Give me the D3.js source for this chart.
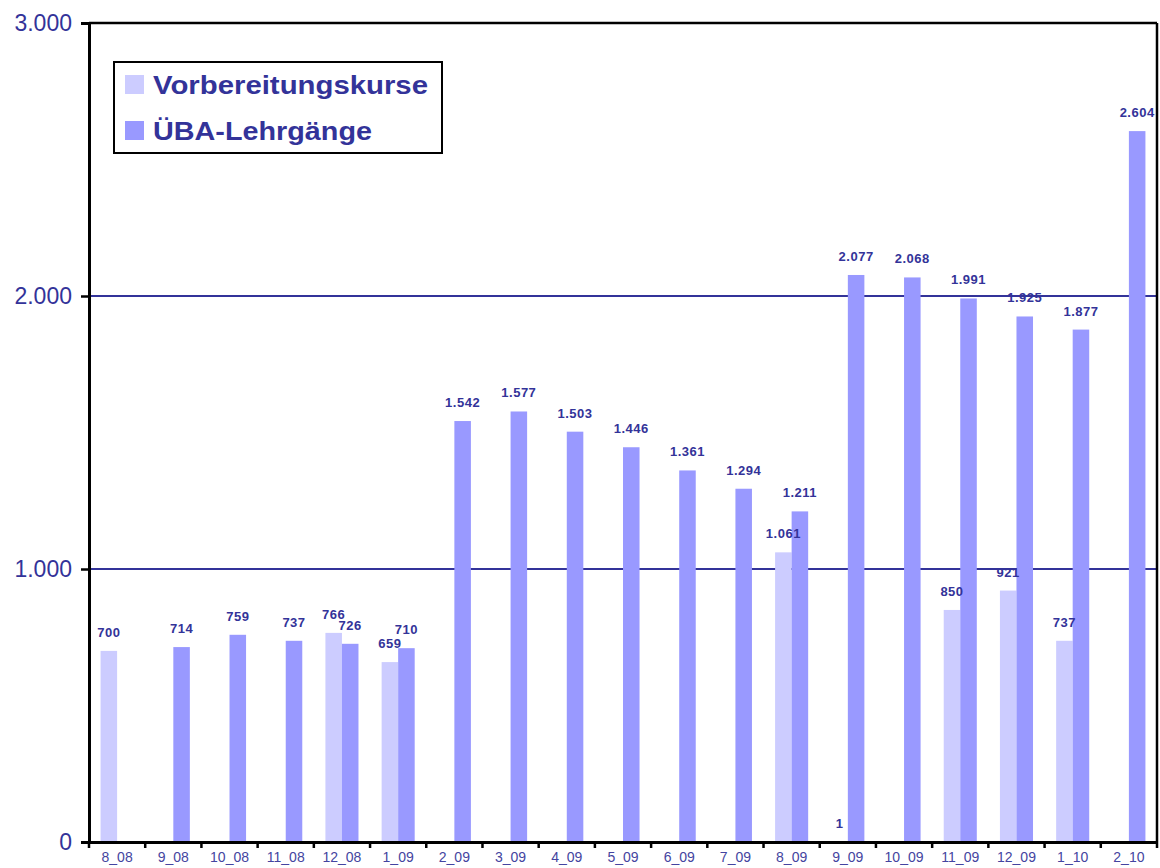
<!DOCTYPE html>
<html>
<head>
<meta charset="utf-8">
<script src="https://cdn.jsdelivr.net/npm/d3@7"></script>
<style>
  html, body { margin: 0; padding: 0; background: #fff; }
  svg { display: block; font-family: "Liberation Sans", Arial, sans-serif; }
</style>
</head>
<body>
<svg id="chart" width="1160" height="868"></svg>
<script>
const categories = ["8_08","9_08","10_08","11_08","12_08","1_09","2_09","3_09","4_09","5_09","6_09","7_09","8_09","9_09","10_09","11_09","12_09","1_10","2_10"];
const vorbereitung = [700,null,null,null,766,659,null,null,null,null,null,null,1061,1,null,850,921,737,null];
const ueba = [null,714,759,737,726,710,1542,1577,1503,1446,1361,1294,1211,2077,2068,1991,1925,1877,2604];
const yTicks = [0,1000,2000,3000];
const seriesNames = ["Vorbereitungskurse","ÜBA-Lehrgänge"];
const seriesKeys = ["v","u"];
const colors = {v:"#ccccff", u:"#9999ff"};
const textColor = "#333399";

const svg = d3.select("#chart");
const pLeft = 89, pRight = 1157, pTop = 23, pBottom = 842;

const x = d3.scaleBand().domain(categories).range([pLeft, pRight]).padding(0);
const xs = d3.scaleBand().domain(seriesKeys).range([0, x.bandwidth()]).paddingInner(0).paddingOuter(0.7);
const y = d3.scaleLinear().domain([0,3000]).range([pBottom, pTop]);

const loc = d3.formatLocale({decimal:",", thousands:".", grouping:[3], currency:["","€"]});
const fmt = loc.format(",d");

// gridlines
svg.append("g").selectAll("line").data([1000,2000]).join("line")
  .attr("x1", pLeft).attr("x2", pRight)
  .attr("y1", d => y(d)).attr("y2", d => y(d))
  .attr("stroke", textColor).attr("stroke-width", 2);

// bars
const rows = [];
categories.forEach((c,i) => {
  if (vorbereitung[i] != null) rows.push({c, k:"v", v:vorbereitung[i]});
  if (ueba[i] != null) rows.push({c, k:"u", v:ueba[i]});
});
svg.append("g").selectAll("rect").data(rows).join("rect")
  .attr("x", d => x(d.c) + xs(d.k))
  .attr("width", xs.bandwidth())
  .attr("y", d => y(d.v))
  .attr("height", d => y(0) - y(d.v))
  .attr("fill", d => colors[d.k]);

// data labels
svg.append("g").selectAll("text").data(rows).join("text")
  .attr("x", d => x(d.c) + xs(d.k) + xs.bandwidth()/2)
  .attr("y", d => y(d.v) - 14)
  .attr("text-anchor", "middle")
  .attr("font-size", 13)
  .attr("font-weight", "bold")
  .attr("letter-spacing", "0.5px")
  .attr("fill", textColor)
  .text(d => fmt(d.v));

// plot frame (top and right)
svg.append("line").attr("x1", pLeft).attr("x2", pRight).attr("y1", pTop).attr("y2", pTop)
  .attr("stroke", "#000").attr("stroke-width", 2.5);
svg.append("line").attr("x1", pRight).attr("x2", pRight).attr("y1", pTop).attr("y2", pBottom)
  .attr("stroke", "#000").attr("stroke-width", 2.5);

// y axis
const yAxis = d3.axisLeft(y).tickValues(yTicks).tickSize(8).tickPadding(9)
  .tickFormat(d => fmt(d));
const gy = svg.append("g").attr("transform", `translate(${pLeft},0)`).call(yAxis);
gy.select(".domain").attr("stroke", "#000").attr("stroke-width", 3);
gy.selectAll(".tick line").attr("stroke", "#000").attr("stroke-width", 2.5);
gy.selectAll(".tick text").attr("font-size", 23).attr("fill", textColor)
  .attr("font-family", "\"Liberation Sans\", Arial, sans-serif");

// x axis
const xAxis = d3.axisBottom(x).tickSize(0).tickPadding(0);
const gx = svg.append("g").attr("transform", `translate(0,${pBottom})`).call(xAxis);
gx.select(".domain").attr("stroke", "#000").attr("stroke-width", 3);
gx.selectAll(".tick text").attr("font-size", 14).attr("fill", "#4444a0")
  .attr("dy", null).attr("y", 20)
  .attr("font-family", "\"Liberation Sans\", Arial, sans-serif");
// boundary ticks
const bounds = categories.map(c => x(c)).concat([x(categories[categories.length-1]) + x.bandwidth()]);
svg.append("g").selectAll("line").data(bounds).join("line")
  .attr("x1", d => d).attr("x2", d => d)
  .attr("y1", pBottom).attr("y2", pBottom + 6)
  .attr("stroke", "#000").attr("stroke-width", 2.5);

// legend
const lg = svg.append("g");
lg.append("rect").attr("x", 114).attr("y", 62).attr("width", 328).attr("height", 91)
  .attr("fill", "#fff").attr("stroke", "#000").attr("stroke-width", 2);
const legY = [94, 140];
const legW = [275, 219];
seriesKeys.forEach((k,i) => {
  lg.append("rect").attr("x", 125).attr("y", legY[i] - 19).attr("width", 19).attr("height", 19)
    .attr("fill", colors[k]);
  lg.append("text").attr("x", 153).attr("y", legY[i])
    .attr("font-size", 25).attr("font-weight", "bold").attr("fill", textColor)
    .attr("textLength", legW[i]).attr("lengthAdjust", "spacingAndGlyphs")
    .text(seriesNames[i]);
});
</script>
</body>
</html>
